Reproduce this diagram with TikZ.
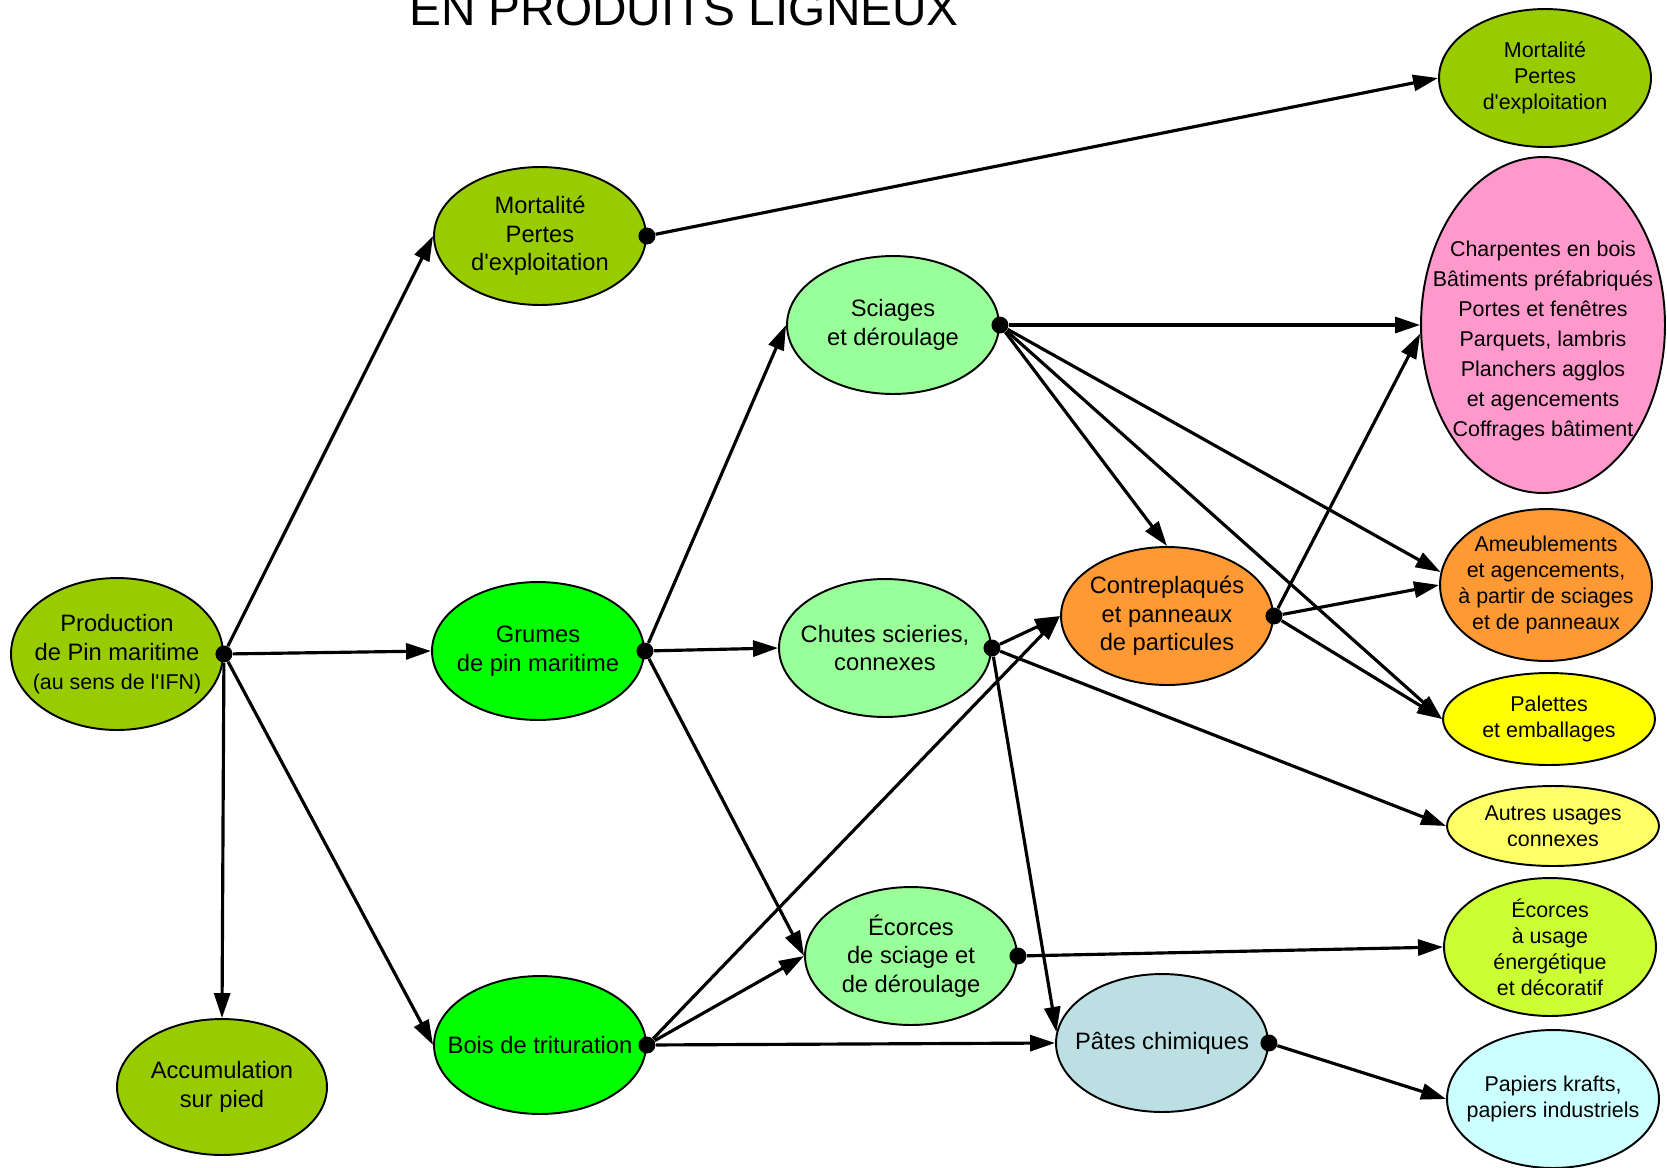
\documentclass[tikz,border=0pt]{standalone}
\usepackage{fontspec}
\setmainfont{Liberation Sans}
\usetikzlibrary{arrows.meta,shapes.geometric}
\definecolor{vertolive}{HTML}{99CC00}
\definecolor{vertvif}{HTML}{00FF00}
\definecolor{vertpale}{HTML}{99FF99}
\definecolor{orangebois}{HTML}{FF9933}
\definecolor{bleugris}{HTML}{BBDFE3}
\definecolor{rosebois}{HTML}{FF99CC}
\definecolor{jaunevif}{HTML}{FFFF00}
\definecolor{jaunepale}{HTML}{FFFF66}
\definecolor{vertanis}{HTML}{CCFF33}
\definecolor{bleuciel}{HTML}{CCFFFF}
\tikzset{>={Triangle[length=5mm,width=3.2mm]},
	etape/.style={ellipse,draw=black,line width=1.1pt,inner sep=-2cm,minimum width=4.24cm,minimum height=2.76cm,align=center,font=\fontsize{13.5}{16.3}\selectfont},
	produit/.style={etape,font=\fontsize{12.2}{14.8}\selectfont},
	dot/.style={circle,fill=black,inner sep=0pt,minimum size=3.4mm},
	flux/.style={->,line width=1.8pt}}

\begin{document}
\begin{tikzpicture}[x=0.02cm,y=-0.02cm]
	\useasboundingbox (0,0) rectangle (1667,1167);
	\node (titre) at (684,25) [anchor=base,font=\fontsize{27.2}{30}\selectfont] {EN PRODUITS LIGNEUX};
	\node (prod) at (117,654) [etape,fill=vertolive,minimum height=3.04cm] {Production\\de Pin maritime\\{\fontsize{12.2}{14}\selectfont (au sens de l\textquotesingle IFN)}};
	\node (accu) at (222,1087) [etape,fill=vertolive,minimum width=4.2cm,minimum height=2.72cm] {Accumulation\\sur pied};
	\node (mortA) at (540,236) [etape,fill=vertolive] {Mortalité\\Pertes\\d\textquotesingle exploitation};
	\node (grumes) at (538,651) [etape,fill=vertvif] {Grumes\\de pin maritime};
	\node (bois) at (540,1045) [etape,fill=vertvif] {Bois de trituration};
	\node (sciages) at (893,325) [etape,fill=vertpale] {Sciages\\et déroulage};
	\node (chutes) at (885,648) [etape,fill=vertpale] {Chutes scieries,\\connexes};
	\node (ecorcesA) at (911,956) [etape,fill=vertpale] {Écorces\\de sciage et\\de déroulage};
	\node (contre) at (1167,616) [etape,fill=orangebois] {Contreplaqués\\et panneaux\\de particules};
	\node (pates) at (1162,1043) [etape,fill=bleugris] {Pâtes chimiques};
	\node (mortB) at (1545,78) [produit,fill=vertolive] {Mortalité\\Pertes\\d\textquotesingle exploitation};
	\node (charp) at (1543,325) [produit,fill=rosebois,minimum width=4.88cm,minimum height=6.72cm,font=\fontsize{12.2}{17}\selectfont] {\mbox{}\\[10pt]Charpentes en bois\\Bâtiments préfabriqués\\Portes et fenêtres\\Parquets, lambris\\Planchers agglos\\et agencements\\Coffrages bâtiment};
	\node (meubles) at (1546,585) [produit,fill=orangebois,minimum height=3.04cm] {Ameublements\\et agencements,\\à partir de sciages\\et de panneaux};
	\node (palettes) at (1549,719) [produit,fill=jaunevif,minimum height=1.84cm] {Palettes\\et emballages};
	\node (autres) at (1553,826) [produit,fill=jaunepale,minimum height=1.6cm] {Autres usages\\connexes};
	\node (ecorcesB) at (1550,947) [produit,fill=vertanis] {Écorces\\à usage\\énergétique\\et décoratif};
	\node (papiers) at (1553,1099) [produit,fill=bleuciel] {Papiers krafts,\\papiers industriels};
	\node (prod-d) at (prod.east) [dot] {};
	\node (mortA-d) at (mortA.east) [dot] {};
	\node (grumes-d) at (grumes.east) [dot] {};
	\node (bois-d) at (bois.east) [dot] {};
	\node (sciages-d) at (sciages.east) [dot] {};
	\node (chutes-d) at (chutes.east) [dot] {};
	\node (ecorcesA-d) at (ecorcesA.east) [dot] {};
	\node (contre-d) at (contre.east) [dot] {};
	\node (pates-d) at (pates.east) [dot] {};
	\draw [flux] (prod-d) -- (mortA.west);
	\draw [flux] (prod-d) -- (grumes.west);
	\draw [flux] (prod-d) -- (bois.west);
	\draw [flux] (prod-d) -- (accu.north);
	\draw [flux] (mortA-d) -- (mortB.west);
	\draw [flux] (grumes-d) -- (sciages.west);
	\draw [flux] (grumes-d) -- (chutes.west);
	\draw [flux] (grumes-d) -- (ecorcesA.west);
	\draw [flux] (bois-d) -- (contre.west);
	\draw [flux] (bois-d) -- (ecorcesA.west);
	\draw [flux] (bois-d) -- (pates.west);
	\draw [flux] (sciages-d) -- (charp.west);
	\draw [flux] (sciages-d) -- (contre.north);
	\draw [flux] (sciages-d) -- (meubles.173);
	\draw [flux] (sciages-d) -- (palettes.west);
	\draw [flux] (chutes-d) -- (contre.west);
	\draw [flux] (chutes-d) -- (autres.west);
	\draw [flux] (chutes-d) -- (pates.174);
	\draw [flux] (ecorcesA-d) -- (ecorcesB.west);
	\draw [flux] (contre-d) -- (charp.184);
	\draw [flux] (contre-d) -- (meubles.west);
	\draw [flux] (contre-d) -- (palettes.west);
	\draw [flux] (pates-d) -- (papiers.west);
\end{tikzpicture}
\end{document}
